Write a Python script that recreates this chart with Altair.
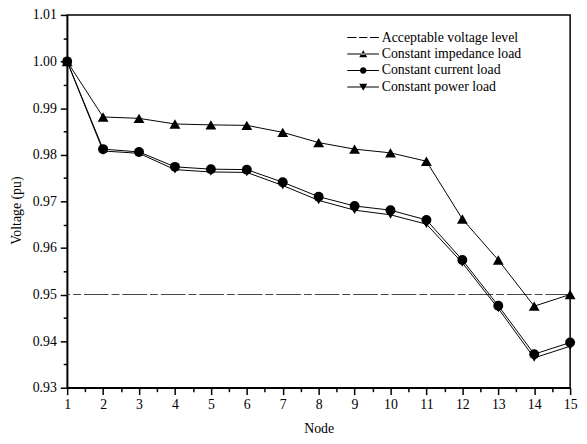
import altair as alt
import pandas as pd

nodes = list(range(1, 16))
impedance = [1.0000, 0.9881, 0.9878, 0.9866, 0.9864, 0.9863, 0.9848, 0.9826,
             0.9812, 0.9804, 0.9786, 0.9662, 0.9574, 0.9475, 0.9500]
current = [1.0000, 0.9812, 0.9806, 0.9774, 0.9769, 0.9768, 0.9741, 0.9710,
           0.9690, 0.9681, 0.9660, 0.9574, 0.9476, 0.9372, 0.9397]
power = [1.0000, 0.9808, 0.9803, 0.9768, 0.9763, 0.9762, 0.9734, 0.9702,
         0.9681, 0.9671, 0.9651, 0.9568, 0.9470, 0.9364, 0.9389]
threshold = [0.95]

series_names = ["Acceptable voltage level", "Constant impedance load",
                "Constant current load", "Constant power load"]
load_names = series_names[1:]
marker_shapes = ["triangle-up", "circle", "triangle-down"]

x_ticks = [v / 2 for v in range(2, 31)]
y_ticks = [round(0.93 + 0.005 * i, 3) for i in range(17)]

rows = []
for name, vals in zip(load_names, [impedance, current, power]):
    for n, v in zip(nodes, vals):
        rows.append({"node": n, "voltage": v, "series": name})
loads = pd.DataFrame(rows)
thr = pd.DataFrame({"voltage": threshold})
ghost = pd.concat([pd.DataFrame({"node": [nodes[0]], "voltage": threshold,
                                 "series": [series_names[0]]}), loads])

# legend symbol paths (thin filled bars + marker), unit = sqrt(size)/2 = 6px
h = 0.085
bar = f"M-2.5,-{h}H2.85V{h}H-2.5Z"
legend_paths = [
    f"M-2.5,-{h}H-0.95V{h}H-2.5ZM-0.5,-{h}H0.9V{h}H-0.5ZM1.35,-{h}H2.85V{h}H1.35Z",
    bar + "M0.2,-0.65L-0.47,0.55L0.87,0.55Z",
    bar + "M0.75,0A0.55,0.55 0 1,1 -0.35,0A0.55,0.55 0 1,1 0.75,0Z",
    bar + "M-0.47,-0.55L0.87,-0.55L0.2,0.65Z",
]

FONT = "Liberation Serif"
MAJOR_Y = "abs(datum.value*100 - round(datum.value*100)) < 0.001"

x_axis = alt.Axis(values=x_ticks, grid=False, labelOverlap=False, labelFlush=False,
                  labelExpr="datum.value % 1 === 0 ? format(datum.value, 'd') : ''",
                  tickSize={"condition": {"test": "datum.value % 1 === 0", "value": 7}, "value": 4},
                  labelPadding=3, titlePadding=10)
y_axis = alt.Axis(values=y_ticks, grid=False, labelOverlap=False, labelFlush=False,
                  labelExpr=MAJOR_Y + " ? format(datum.value, '.2f') : ''",
                  tickSize={"condition": {"test": MAJOR_Y, "value": 7}, "value": 4},
                  labelPadding=4, titlePadding=9, titleY=198)
x_scale = alt.Scale(domain=[1, 15], nice=False, zero=False)
y_scale = alt.Scale(domain=[0.93, 1.01], nice=False, zero=False)


def X():
    return alt.X("node:Q", title="Node", scale=x_scale, axis=x_axis)


def Y():
    return alt.Y("voltage:Q", title="Voltage (pu)", scale=y_scale, axis=y_axis)


rule = alt.Chart(thr).mark_rule(color="#444444", strokeWidth=1,
                                strokeDash=[25, 3, 8, 3]).encode(y=Y())

lines = alt.Chart(loads).mark_line(color="black", strokeWidth=1).encode(
    x=X(), y=Y(), detail="series:N")

points = alt.Chart(loads).mark_point(filled=True, color="black", opacity=1).encode(
    x=X(), y=Y(),
    shape=alt.Shape("series:N", scale=alt.Scale(domain=load_names, range=marker_shapes),
                    legend=None),
    size=alt.Size("series:N", scale=alt.Scale(domain=load_names, range=[121, 81, 121]),
                  legend=None))

legend_layer = alt.Chart(ghost).mark_point(
    filled=True, color="black", opacity=0
).encode(
    x=X(), y=Y(),
    shape=alt.Shape("series:N",
                    scale=alt.Scale(domain=series_names, range=legend_paths),
                    legend=alt.Legend(title=None, orient="none", legendX=292, legendY=16,
                                      symbolSize=144, symbolOpacity=1,
                                      symbolFillColor="black", symbolStrokeWidth=0,
                                      labelOffset=13,
                                      labelFont=FONT, labelFontSize=14, labelColor="black",
                                      rowPadding=2.7, padding=0)))

chart = alt.layer(rule, lines, points, legend_layer).resolve_scale(
    shape="independent", size="independent"
).properties(
    width=510, height=378,
    padding={"left": 60, "top": 4, "right": 9, "bottom": 50},
    autosize=alt.AutoSizeParams(type="none"),
).configure_view(
    stroke="black", strokeWidth=1.5
).configure_axis(
    labelFont=FONT, labelFontSize=14, labelColor="black",
    titleFont=FONT, titleFontSize=14, titleFontWeight="normal", titleColor="black",
    domainColor="black", domainWidth=1.5, tickColor="black", tickWidth=1.5,
)

chart.save("out.html", embed_options={"renderer": "svg", "actions": False})
